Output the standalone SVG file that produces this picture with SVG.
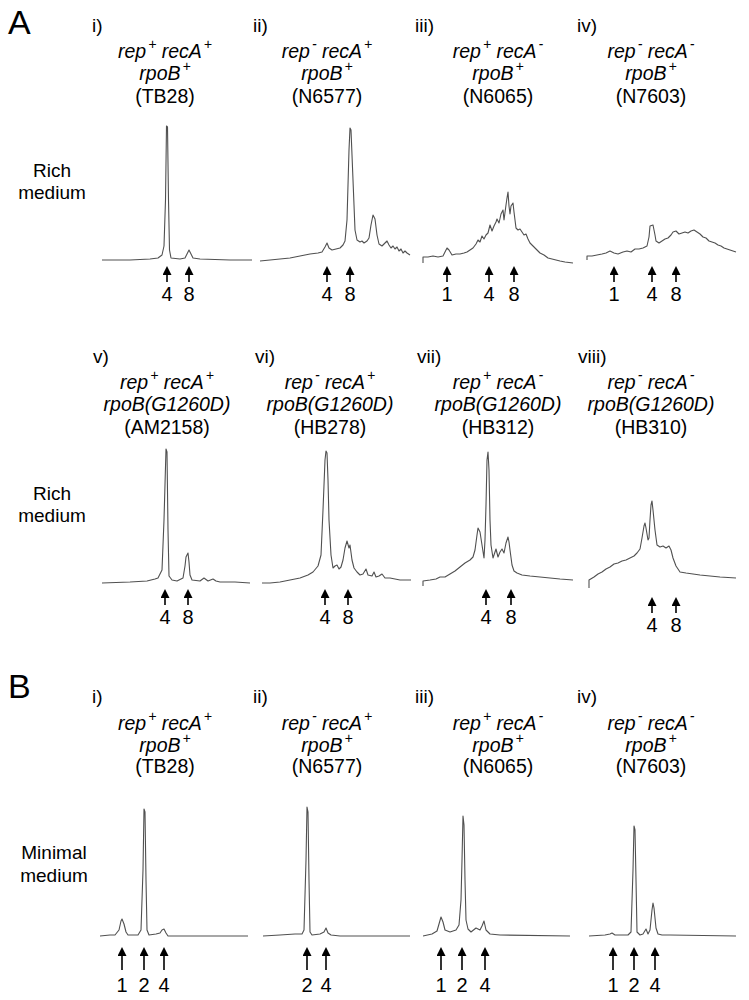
<svg xmlns="http://www.w3.org/2000/svg" width="749" height="1000" viewBox="0 0 749 1000">
<style>
text{font-family:"Liberation Sans",Arial,sans-serif;fill:#000}
.big{font-size:34px}
.lab{font-size:19px}
.g{font-size:19.5px;font-style:italic;text-anchor:middle}
.s{font-size:19.5px;text-anchor:middle}
.sup{font-size:14px}
.num{font-size:20px;text-anchor:middle}
.side{font-size:19px;text-anchor:middle}
.trace{fill:none;stroke:#505050;stroke-width:1.1;stroke-linejoin:round}
.arr{stroke:#000;stroke-width:1.6;marker-end:url(#ah)}
</style>
<defs>
<marker id="ah" markerUnits="userSpaceOnUse" markerWidth="10" markerHeight="10" refX="2" refY="4.5" orient="auto">
<path d="M0,0 L9,4.5 L0,9 z" fill="#000"/>
</marker>
</defs>
<rect width="749" height="1000" fill="#fff"/>

<text class="big" x="8" y="34">A</text>
<text class="big" x="8" y="698">B</text>

<text class="side" x="52" y="177">Rich</text>
<text class="side" x="52" y="199">medium</text>
<text class="side" x="52" y="500">Rich</text>
<text class="side" x="52" y="522">medium</text>
<text class="side" x="54" y="859">Minimal</text>
<text class="side" x="54" y="882">medium</text>

<!-- Row A1 -->
<g id="A-i">
<text class="lab" x="92" y="32">i)</text>
<text class="g" x="165" y="58">rep<tspan class="sup" dx="2" dy="-9">+</tspan><tspan dy="9"> recA</tspan><tspan class="sup" dx="2" dy="-9">+</tspan></text>
<text class="g" x="165" y="80">rpoB<tspan class="sup" dx="2" dy="-9">+</tspan></text>
<text class="s" x="165" y="103">(TB28)</text>
<path class="trace" d="M102,260 L130,260 L150,259 L158,258 L162,255 L164,246 L165.5,200 L166.5,126 L167.5,127 L168.5,200 L169.5,250 L171,258 L180,259 L185,258 L187,254 L189,250 L191,254 L193,258 L200,259 L230,260 L252,260"/>
</g>
<g id="A-ii">
<text class="lab" x="253" y="32">ii)</text>
<text class="g" x="327" y="58">rep<tspan class="sup" dx="2" dy="-9">-</tspan><tspan dy="9"> recA</tspan><tspan class="sup" dx="2" dy="-9">+</tspan></text>
<text class="g" x="327" y="80">rpoB<tspan class="sup" dx="2" dy="-9">+</tspan></text>
<text class="s" x="327" y="103">(N6577)</text>
<path class="trace" d="M260,261 L270,260 L280,259 L290,258 L300,256 L310,254 L318,253 L322,252 L325,247 L327,243 L329,248 L332,250 L336,249 L340,248 L343,245 L345,241 L347,220 L349,150 L350,128 L351,130 L353,180 L355,230 L357,240 L360,242 L362,241 L364,243 L367,241 L369,238 L371,225 L373,215 L375,219 L377,235 L379,244 L382,246 L384,244 L387,241 L389,245 L391,248 L393,246 L395,249 L397,247 L399,251 L401,249 L403,253 L405,251 L407,253 L410,255"/>
</g>
<g id="A-iii">
<text class="lab" x="415" y="32">iii)</text>
<text class="g" x="498" y="58">rep<tspan class="sup" dx="2" dy="-9">+</tspan><tspan dy="9"> recA</tspan><tspan class="sup" dx="2" dy="-9">-</tspan></text>
<text class="g" x="498" y="80">rpoB<tspan class="sup" dx="2" dy="-9">+</tspan></text>
<text class="s" x="498" y="103">(N6065)</text>
<path class="trace" d="M423,263 L423,257 L428,257 L433,256 L438,257 L443,256 L445,252 L447,248 L449,250 L452,255 L456,254 L460,254 L464,253 L467,252 L470,250 L473,248 L476,244 L478,240 L480,242 L482,236 L484,239 L486,235 L488,233 L490,225 L492,231 L494,226 L496,222 L497,219 L499,223 L501,214 L503,210 L504,220 L506,205 L507,198 L508,192 L509,206 L510,214 L511,206 L513,203 L514,212 L516,228 L518,230 L520,229 L522,232 L524,235 L526,234 L528,239 L530,243 L533,246 L536,249 L540,253 L544,255 L548,258 L552,259 L556,260 L560,261 L565,262 L573,263"/>
</g>
<g id="A-iv">
<text class="lab" x="577" y="32">iv)</text>
<text class="g" x="651" y="58">rep<tspan class="sup" dx="2" dy="-9">-</tspan><tspan dy="9"> recA</tspan><tspan class="sup" dx="2" dy="-9">-</tspan></text>
<text class="g" x="651" y="80">rpoB<tspan class="sup" dx="2" dy="-9">+</tspan></text>
<text class="s" x="651" y="103">(N7603)</text>
<path class="trace" d="M587,260 L587,256 L592,256 L597,255 L602,254 L606,253 L610,251 L614,253 L618,254 L623,252 L627,251 L631,252 L635,249 L639,249 L643,248 L647,246 L649,237 L650,226 L653,225 L655,235 L656,241 L659,243 L662,241 L665,239 L668,238 L671,235 L673,232 L676,231 L679,234 L682,233 L685,232 L688,233 L691,231 L694,230 L697,232 L700,234 L703,237 L706,238 L709,241 L712,242 L715,243 L718,245 L721,246 L724,248 L727,249 L730,250 L733,251 L736,252"/>
</g>

<!-- Row A2 -->
<g id="A-v">
<text class="lab" x="93" y="363">v)</text>
<text class="g" x="167" y="389">rep<tspan class="sup" dx="2" dy="-9">+</tspan><tspan dy="9"> recA</tspan><tspan class="sup" dx="2" dy="-9">+</tspan></text>
<text class="g" x="167" y="411">rpoB(G1260D)</text>
<text class="s" x="167" y="434">(AM2158)</text>
<path class="trace" d="M102,583 L130,582 L147,581 L155,579 L158,578 L162,570 L164,520 L166,449 L167,452 L168,530 L169,576 L172,580 L177,581 L183,578 L185,566 L186,557 L188,553 L189,562 L190,575 L192,580 L200,581 L204,578 L208,581 L213,579 L216,581 L220,582 L235,582 L250,583"/>
</g>
<g id="A-vi">
<text class="lab" x="255" y="363">vi)</text>
<text class="g" x="330" y="389">rep<tspan class="sup" dx="2" dy="-9">-</tspan><tspan dy="9"> recA</tspan><tspan class="sup" dx="2" dy="-9">+</tspan></text>
<text class="g" x="330" y="411">rpoB(G1260D)</text>
<text class="s" x="330" y="434">(HB278)</text>
<path class="trace" d="M262,583 L270,583 L280,582 L290,580 L300,578 L308,575 L313,572 L318,566 L321,555 L323,510 L325,460 L326,451 L327,453 L328,480 L329,520 L331,555 L333,568 L335,566 L337,565 L339,569 L341,567 L343,560 L345,548 L347,541 L349,548 L350,545 L352,560 L354,568 L357,572 L360,575 L363,574 L366,569 L368,575 L372,576 L374,572 L376,577 L379,576 L382,574 L385,578 L390,578 L395,579 L400,580 L405,580 L411,580"/>
</g>
<g id="A-vii">
<text class="lab" x="417" y="363">vii)</text>
<text class="g" x="498" y="389">rep<tspan class="sup" dx="2" dy="-9">+</tspan><tspan dy="9"> recA</tspan><tspan class="sup" dx="2" dy="-9">-</tspan></text>
<text class="g" x="498" y="411">rpoB(G1260D)</text>
<text class="s" x="498" y="434">(HB312)</text>
<path class="trace" d="M423,586 L423,581 L430,580 L436,579 L440,577 L445,577 L450,574 L455,571 L460,567 L465,563 L470,560 L473,557 L475,550 L477,535 L478,528 L480,532 L482,545 L484,558 L485,540 L486,505 L487,460 L488,452 L489,470 L490,520 L491,545 L493,558 L495,552 L496,549 L498,557 L500,552 L502,549 L504,553 L506,543 L508,537 L509,542 L510,550 L512,565 L514,571 L517,573 L522,575 L530,576 L540,577 L550,578 L560,579 L573,580"/>
</g>
<g id="A-viii">
<text class="lab" x="578" y="363">viii)</text>
<text class="g" x="651" y="389">rep<tspan class="sup" dx="2" dy="-9">-</tspan><tspan dy="9"> recA</tspan><tspan class="sup" dx="2" dy="-9">-</tspan></text>
<text class="g" x="651" y="411">rpoB(G1260D)</text>
<text class="s" x="651" y="434">(HB310)</text>
<path class="trace" d="M589,588 L589,580 L594,577 L598,574 L602,572 L606,569 L610,567 L614,564 L618,563 L622,561 L626,560 L630,558 L634,556 L637,553 L640,549 L642,538 L644,526 L645,523 L646,528 L648,540 L649,538 L650,520 L651,505 L652,501 L653,510 L655,530 L657,545 L660,547 L663,546 L666,548 L669,546 L671,550 L673,558 L676,566 L680,572 L686,573 L693,574 L700,575 L710,576 L720,577 L736,578"/>
</g>

<!-- Row B -->
<g id="B-i">
<text class="lab" x="92" y="703">i)</text>
<text class="g" x="165" y="730">rep<tspan class="sup" dx="2" dy="-9">+</tspan><tspan dy="9"> recA</tspan><tspan class="sup" dx="2" dy="-9">+</tspan></text>
<text class="g" x="165" y="752">rpoB<tspan class="sup" dx="2" dy="-9">+</tspan></text>
<text class="s" x="165" y="773">(TB28)</text>
<path class="trace" d="M100,936 L110,935 L115,935 L119,930 L121,921 L122,919 L124,924 L126,932 L128,935 L138,935 L141,930 L143,870 L144,809 L145,812 L146,880 L147,930 L149,935 L156,934 L160,933 L162,930 L164,929 L166,933 L168,936 L180,936 L248,936"/>
</g>
<g id="B-ii">
<text class="lab" x="253" y="703">ii)</text>
<text class="g" x="327" y="730">rep<tspan class="sup" dx="2" dy="-9">-</tspan><tspan dy="9"> recA</tspan><tspan class="sup" dx="2" dy="-9">+</tspan></text>
<text class="g" x="327" y="752">rpoB<tspan class="sup" dx="2" dy="-9">+</tspan></text>
<text class="s" x="327" y="773">(N6577)</text>
<path class="trace" d="M263,936 L280,935 L295,934 L302,934 L304,930 L306,860 L307,807 L308,812 L309,880 L310,932 L312,935 L320,934 L324,932 L326,928 L328,933 L331,935 L340,936 L410,936"/>
</g>
<g id="B-iii">
<text class="lab" x="415" y="703">iii)</text>
<text class="g" x="498" y="730">rep<tspan class="sup" dx="2" dy="-9">+</tspan><tspan dy="9"> recA</tspan><tspan class="sup" dx="2" dy="-9">-</tspan></text>
<text class="g" x="498" y="752">rpoB<tspan class="sup" dx="2" dy="-9">+</tspan></text>
<text class="s" x="498" y="773">(N6065)</text>
<path class="trace" d="M423,936 L432,934 L437,931 L439,924 L441,917 L443,922 L445,930 L450,932 L456,930 L459,925 L461,900 L462,860 L463,816 L464,825 L465,880 L466,920 L468,929 L471,932 L476,928 L480,930 L482,926 L484,921 L486,930 L490,934 L500,935 L570,936"/>
</g>
<g id="B-iv">
<text class="lab" x="577" y="703">iv)</text>
<text class="g" x="651" y="730">rep<tspan class="sup" dx="2" dy="-9">-</tspan><tspan dy="9"> recA</tspan><tspan class="sup" dx="2" dy="-9">-</tspan></text>
<text class="g" x="651" y="752">rpoB<tspan class="sup" dx="2" dy="-9">+</tspan></text>
<text class="s" x="651" y="773">(N7603)</text>
<path class="trace" d="M589,936 L605,935 L610,934 L612,933 L615,935 L628,935 L631,932 L633,870 L634,826 L635,830 L636,880 L637,932 L640,935 L643,934 L646,929 L648,934 L650,930 L652,910 L653,903 L654,908 L656,928 L658,934 L662,935 L670,935 L736,936"/>
</g>

<g id="connectors">
<line class="arr" x1="167" y1="282" x2="167" y2="273"/>
<line class="arr" x1="189" y1="282" x2="189" y2="273"/>
<line class="arr" x1="327" y1="282" x2="327" y2="273"/>
<line class="arr" x1="350" y1="282" x2="350" y2="273"/>
<line class="arr" x1="447" y1="282" x2="447" y2="273"/>
<line class="arr" x1="489" y1="282" x2="489" y2="273"/>
<line class="arr" x1="514" y1="282" x2="514" y2="273"/>
<line class="arr" x1="614" y1="282" x2="614" y2="273"/>
<line class="arr" x1="652" y1="282" x2="652" y2="273"/>
<line class="arr" x1="676" y1="282" x2="676" y2="273"/>
<line class="arr" x1="165" y1="605" x2="165" y2="596"/>
<line class="arr" x1="188" y1="605" x2="188" y2="596"/>
<line class="arr" x1="325" y1="605" x2="325" y2="596"/>
<line class="arr" x1="348" y1="605" x2="348" y2="596"/>
<line class="arr" x1="486" y1="605" x2="486" y2="596"/>
<line class="arr" x1="511" y1="605" x2="511" y2="596"/>
<line class="arr" x1="652" y1="613" x2="652" y2="604"/>
<line class="arr" x1="676" y1="613" x2="676" y2="604"/>
<line class="arr" x1="122" y1="970" x2="122" y2="954"/>
<line class="arr" x1="144" y1="970" x2="144" y2="954"/>
<line class="arr" x1="164" y1="970" x2="164" y2="954"/>
<line class="arr" x1="307" y1="970" x2="307" y2="954"/>
<line class="arr" x1="326" y1="970" x2="326" y2="954"/>
<line class="arr" x1="441" y1="970" x2="441" y2="954"/>
<line class="arr" x1="462" y1="970" x2="462" y2="954"/>
<line class="arr" x1="485" y1="970" x2="485" y2="954"/>
<line class="arr" x1="613" y1="970" x2="613" y2="954"/>
<line class="arr" x1="634" y1="970" x2="634" y2="954"/>
<line class="arr" x1="655" y1="970" x2="655" y2="954"/>
</g>

<g id="arrow-labels">
<text class="num" x="167" y="301">4</text>
<text class="num" x="189" y="301">8</text>
<text class="num" x="327" y="301">4</text>
<text class="num" x="350" y="301">8</text>
<text class="num" x="447" y="301">1</text>
<text class="num" x="489" y="301">4</text>
<text class="num" x="514" y="301">8</text>
<text class="num" x="614" y="301">1</text>
<text class="num" x="652" y="301">4</text>
<text class="num" x="676" y="301">8</text>
<text class="num" x="165" y="624">4</text>
<text class="num" x="188" y="624">8</text>
<text class="num" x="325" y="624">4</text>
<text class="num" x="348" y="624">8</text>
<text class="num" x="486" y="624">4</text>
<text class="num" x="511" y="624">8</text>
<text class="num" x="652" y="632">4</text>
<text class="num" x="676" y="632">8</text>
<text class="num" x="122" y="992">1</text>
<text class="num" x="144" y="992">2</text>
<text class="num" x="164" y="992">4</text>
<text class="num" x="307" y="992">2</text>
<text class="num" x="326" y="992">4</text>
<text class="num" x="441" y="992">1</text>
<text class="num" x="462" y="992">2</text>
<text class="num" x="485" y="992">4</text>
<text class="num" x="613" y="992">1</text>
<text class="num" x="634" y="992">2</text>
<text class="num" x="655" y="992">4</text>
</g>
</svg>
